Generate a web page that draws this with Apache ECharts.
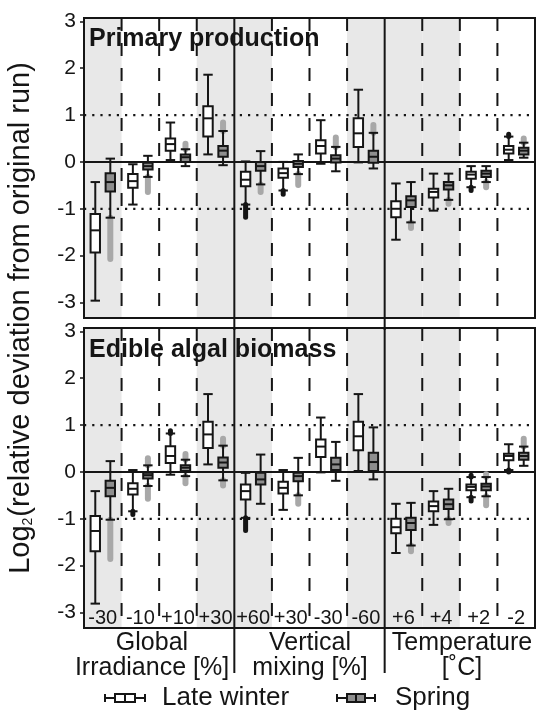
<!DOCTYPE html>
<html>
<head>
<meta charset="utf-8">
<script src="https://cdn.jsdelivr.net/npm/echarts@6/dist/echarts.min.js"></script>
<style>
  html, body { margin: 0; padding: 0; background: #fff; }
  #chart { width: 536px; height: 711px; }
</style>
</head>
<body>
<div id="chart"></div>
<script>
// Scenario groups along the x axis (unique keys) and their printed tick labels
const groupKeys = ['irr-30', 'irr-10', 'irr+10', 'irr+30',
                   'mix+60', 'mix+30', 'mix-30', 'mix-60',
                   'tmp+6', 'tmp+4', 'tmp+2', 'tmp-2'];
const tickLabels = ['-30', '-10', '+10', '+30', '+60', '+30', '-30', '-60', '+6', '+4', '+2', '-2'];
const sectionTitles = ['Global\nIrradiance [%]', 'Vertical\nmixing [%]', 'Temperature\n[˚C]'];
const panelTitles = ['Primary production', 'Edible algal biomass'];
const seasonNames = ['Late winter', 'Spring'];

// Box statistics per group: [lower whisker, Q1, median, Q3, upper whisker]
const ppLateWinter = [
  [-2.96, -1.93, -1.46, -1.11, -0.43],
  [-0.91, -0.55, -0.41, -0.26, -0.05],
  [0.04, 0.24, 0.38, 0.50, 0.84],
  [0.16, 0.54, 0.93, 1.19, 1.86],
  [-0.91, -0.52, -0.38, -0.21, 0.01],
  [-0.61, -0.34, -0.24, -0.14, 0.00],
  [-0.04, 0.18, 0.34, 0.46, 0.89],
  [-0.01, 0.32, 0.61, 0.93, 1.54],
  [-1.66, -1.18, -1.00, -0.84, -0.46],
  [-1.04, -0.76, -0.64, -0.57, -0.25],
  [-0.54, -0.36, -0.27, -0.21, -0.09],
  [0.04, 0.18, 0.26, 0.34, 0.54]
];
const ppSpring = [
  [-1.19, -0.63, -0.43, -0.24, 0.07],
  [-0.32, -0.16, -0.09, -0.02, 0.13],
  [-0.09, 0.00, 0.10, 0.16, 0.27],
  [-0.07, 0.11, 0.24, 0.34, 0.66],
  [-0.48, -0.19, -0.09, 0.00, 0.23],
  [-0.26, -0.11, -0.04, 0.02, 0.16],
  [-0.20, -0.01, 0.07, 0.14, 0.32],
  [-0.14, -0.02, 0.11, 0.24, 0.62],
  [-1.29, -0.96, -0.82, -0.73, -0.43],
  [-0.81, -0.59, -0.50, -0.43, -0.25],
  [-0.43, -0.32, -0.25, -0.19, -0.09],
  [0.09, 0.16, 0.24, 0.30, 0.41]
];
const eabLateWinter = [
  [-2.81, -1.69, -1.26, -0.94, -0.41],
  [-0.84, -0.48, -0.36, -0.24, 0.04],
  [-0.06, 0.19, 0.34, 0.55, 0.82],
  [0.16, 0.51, 0.80, 1.07, 1.66],
  [-0.98, -0.59, -0.41, -0.27, -0.02],
  [-0.81, -0.46, -0.34, -0.21, 0.04],
  [-0.01, 0.32, 0.54, 0.69, 1.16],
  [0.02, 0.46, 0.76, 1.07, 1.66],
  [-1.73, -1.31, -1.18, -1.00, -0.68],
  [-1.13, -0.84, -0.73, -0.63, -0.41],
  [-0.54, -0.39, -0.32, -0.27, -0.11],
  [0.04, 0.25, 0.34, 0.39, 0.59]
];
const eabSpring = [
  [-1.02, -0.52, -0.34, -0.19, 0.23],
  [-0.30, -0.14, -0.07, -0.02, 0.14],
  [-0.09, 0.02, 0.09, 0.14, 0.26],
  [-0.18, 0.09, 0.20, 0.31, 0.56],
  [-0.68, -0.27, -0.16, -0.02, 0.37],
  [-0.50, -0.20, -0.09, -0.02, 0.30],
  [-0.19, 0.04, 0.16, 0.30, 0.64],
  [-0.16, 0.02, 0.21, 0.41, 0.95],
  [-1.57, -1.24, -1.09, -0.98, -0.66],
  [-1.01, -0.79, -0.69, -0.59, -0.36],
  [-0.52, -0.39, -0.31, -0.25, -0.11],
  [0.13, 0.26, 0.34, 0.41, 0.54]
];

// Outlier runs: [group index, lowest value, highest value]
const ppLateWinterOut = [[4, -1.18, -0.91], [5, -0.69, -0.61], [10, -0.61, -0.54], [11, 0.54, 0.59]];
const ppSpringOut = [
  [0, -2.07, -1.19], [1, -0.64, -0.32], [2, 0.27, 0.39], [3, 0.66, 0.84],
  [4, -0.64, -0.48], [5, -0.49, -0.26], [6, 0.32, 0.52], [7, 0.62, 0.79],
  [8, -1.41, -1.29], [9, -0.89, -0.81], [10, -0.54, -0.43], [11, 0.41, 0.50]
];
const eabLateWinterOut = [[1, -0.91, -0.84], [2, 0.82, 0.88], [4, -1.25, -0.98], [10, -0.62, -0.54], [10, -0.11, -0.07], [11, 0.00, 0.04]];
const eabSpringOut = [
  [0, -1.86, -1.02], [1, 0.14, 0.29], [1, -0.57, -0.30], [2, 0.26, 0.38], [2, -0.24, -0.09],
  [3, 0.56, 0.71], [3, -0.29, -0.18], [5, -0.68, -0.50], [8, -1.69, -1.57], [9, -1.09, -1.01],
  [10, -0.71, -0.52], [10, -0.11, -0.05], [11, 0.54, 0.71]
];

// ---- styling / layout ----
const FONT = "'Liberation Sans', Arial, Helvetica, sans-serif";
const INK = '#151515';
const SHADE = '#e8e8e8';
const SPRING_FILL = '#8e8e8e';
const SPRING_OUT = '#a8a8a8';
const Y_MIN = -3.33, Y_MAX = 3.07;
const SHADED_GROUPS = [0, 3, 4, 7, 8, 9];
const BOX_SHIFT = 0.2;   // box centre offset, as fraction of the band
const BOX_W = 0.25;      // box width, as fraction of the band
const GRIDS = [
  { left: 84, top: 18, width: 451, height: 300 },
  { left: 84, top: 328, width: 451, height: 300 }
];

const chart = echarts.init(document.getElementById('chart'), null, { renderer: 'canvas' });

function shadeSeries(g) {
  return {
    type: 'custom', xAxisIndex: g, yAxisIndex: g, z: 1, silent: true,
    data: groupKeys.map((_, i) => [i, 0]),
    encode: { x: 0, y: 1 },
    renderItem(params, api) {
      const cs = params.coordSys;
      const i = api.value(0);
      if (SHADED_GROUPS.indexOf(i) < 0) return { type: 'group', children: [] };
      const band = api.size([1, 0])[0];
      const cx = api.coord([i, 0])[0];
      return {
        type: 'rect',
        shape: { x: cx - band / 2, y: cs.y, width: band, height: cs.height },
        style: { fill: SHADE }
      };
    }
  };
}

function frameSeries(g, extendBelow) {
  return {
    type: 'custom', xAxisIndex: g, yAxisIndex: g, z: 3, silent: true,
    data: groupKeys.map((_, i) => [i, 0]),
    encode: { x: 0, y: 1 },
    renderItem(params, api) {
      const cs = params.coordSys;
      const i = api.value(0);
      const band = api.size([1, 0])[0];
      const left = api.coord([i, 0])[0] - band / 2;
      const children = [];
      if (i % 4 !== 0) {
        children.push({
          type: 'line',
          shape: { x1: left, y1: cs.y, x2: left, y2: cs.y + cs.height },
          style: { stroke: INK, lineWidth: 2, lineDash: [13, 12] }
        });
      } else if (i > 0) {
        children.push({
          type: 'line',
          shape: { x1: left, y1: cs.y, x2: left, y2: cs.y + cs.height + extendBelow },
          style: { stroke: INK, lineWidth: 2 }
        });
      } else {
        [1, -1].forEach(v => {
          const y = api.coord([0, v])[1];
          children.push({
            type: 'line',
            shape: { x1: cs.x, y1: y, x2: cs.x + cs.width, y2: y },
            style: { stroke: INK, lineWidth: 2.2, lineDash: [2.2, 6], lineCap: 'butt' }
          });
        });
        const y0 = api.coord([0, 0])[1];
        children.push({
          type: 'line',
          shape: { x1: cs.x, y1: y0, x2: cs.x + cs.width, y2: y0 },
          style: { stroke: INK, lineWidth: 2 }
        });
        children.push({
          type: 'rect',
          shape: { x: cs.x, y: cs.y, width: cs.width, height: cs.height },
          style: { fill: 'none', stroke: INK, lineWidth: 2 }
        });
      }
      return { type: 'group', children };
    }
  };
}

function boxSeries(g, name, stats, side, fill) {
  return {
    type: 'custom', name, xAxisIndex: g, yAxisIndex: g, z: 5,
    data: stats.map((s, i) => [i].concat(s)),
    encode: { x: 0, y: [1, 2, 3, 4, 5] },
    renderItem(params, api) {
      const i = api.value(0);
      const band = api.size([1, 0])[0];
      const x = api.coord([i, 0])[0] + side * BOX_SHIFT * band;
      const w = BOX_W * band;
      const yLo = api.coord([i, api.value(1)])[1];
      const yQ1 = api.coord([i, api.value(2)])[1];
      const yMed = api.coord([i, api.value(3)])[1];
      const yQ3 = api.coord([i, api.value(4)])[1];
      const yHi = api.coord([i, api.value(5)])[1];
      const ln = { stroke: INK, lineWidth: 2 };
      return {
        type: 'group',
        children: [
          { type: 'line', shape: { x1: x, y1: yHi, x2: x, y2: yQ3 }, style: ln },
          { type: 'line', shape: { x1: x, y1: yQ1, x2: x, y2: yLo }, style: ln },
          { type: 'line', shape: { x1: x - w / 2, y1: yHi, x2: x + w / 2, y2: yHi }, style: ln },
          { type: 'line', shape: { x1: x - w / 2, y1: yLo, x2: x + w / 2, y2: yLo }, style: ln },
          { type: 'rect', shape: { x: x - w / 2, y: yQ3, width: w, height: yQ1 - yQ3 },
            style: { fill, stroke: INK, lineWidth: 2 } },
          { type: 'line', shape: { x1: x - w / 2, y1: yMed, x2: x + w / 2, y2: yMed }, style: ln }
        ]
      };
    }
  };
}

function outlierSeries(g, runs, side, color, width) {
  return {
    type: 'custom', xAxisIndex: g, yAxisIndex: g, z: 4, silent: true,
    data: runs,
    encode: { x: 0, y: [1, 2] },
    renderItem(params, api) {
      const i = api.value(0);
      const band = api.size([1, 0])[0];
      const x = api.coord([i, 0])[0] + side * BOX_SHIFT * band;
      const y1 = api.coord([i, api.value(1)])[1];
      const y2 = api.coord([i, api.value(2)])[1];
      return {
        type: 'line',
        shape: { x1: x, y1: y1, x2: x, y2: y2 },
        style: { stroke: color, lineWidth: width, lineCap: 'round' }
      };
    }
  };
}

const xAxes = GRIDS.map((_, g) => ({
  type: 'category', gridIndex: g, data: groupKeys, boundaryGap: true, z: 8,
  axisLine: { show: false }, axisTick: { show: false }, splitLine: { show: false },
  axisLabel: {
    show: g === 1, inside: true, margin: 0, interval: 0,
    formatter: (v, idx) => tickLabels[idx],
    fontFamily: FONT, fontSize: 20, color: INK
  }
}));

const yAxes = GRIDS.map((_, g) => ({
  type: 'value', gridIndex: g, min: Y_MIN, max: Y_MAX, splitNumber: 6, z: 8,
  axisLine: { show: false },
  axisTick: { show: true, length: 4, lineStyle: { color: INK, width: 1.5 } },
  splitLine: { show: false },
  axisLabel: {
    showMinLabel: false, showMaxLabel: false, margin: 8,
    formatter: v => (Math.abs(v - Math.round(v)) < 1e-6 ? String(Math.round(v)) : ''),
    fontFamily: FONT, fontSize: 21, color: INK
  }
}));

const statsByPanel = [
  [ppLateWinter, ppSpring, ppLateWinterOut, ppSpringOut],
  [eabLateWinter, eabSpring, eabLateWinterOut, eabSpringOut]
];

const series = [];
statsByPanel.forEach((p, g) => {
  series.push(shadeSeries(g));
  series.push(frameSeries(g, g === 0 ? 12 : 45));
  series.push(outlierSeries(g, p[2], -1, INK, 5));
  series.push(outlierSeries(g, p[3], 1, SPRING_OUT, 6));
  series.push(boxSeries(g, seasonNames[0], p[0], -1, '#ffffff'));
  series.push(boxSeries(g, seasonNames[1], p[1], 1, SPRING_FILL));
});

// Legend glyphs: small horizontal box-and-whisker icons
function legendIcon(x0, x1, b0, b1, y, fill) {
  const st = { stroke: INK, lineWidth: 2 };
  return [
    { type: 'line', shape: { x1: x0, y1: y, x2: x1, y2: y }, style: st, z: 10 },
    { type: 'line', shape: { x1: x0, y1: y - 4, x2: x0, y2: y + 4 }, style: st, z: 10 },
    { type: 'line', shape: { x1: x1, y1: y - 4, x2: x1, y2: y + 4 }, style: st, z: 10 },
    { type: 'rect', shape: { x: b0, y: y - 4, width: b1 - b0, height: 8 },
      style: { fill, stroke: INK, lineWidth: 2 }, z: 11 },
    { type: 'line', shape: { x1: (b0 + b1) / 2, y1: y - 4, x2: (b0 + b1) / 2, y2: y + 4 }, style: st, z: 12 }
  ];
}

const graphic = [
  {
    type: 'text', x: 21, y: 318, rotation: Math.PI / 2, z: 10,
    style: {
      text: '{a|Log}{s|2}{a|(relative deviation from original run)}',
      align: 'center', verticalAlign: 'middle',
      rich: {
        a: { fontFamily: FONT, fontSize: 29, fill: INK },
        s: { fontFamily: FONT, fontSize: 14, fill: INK, verticalAlign: 'bottom', padding: [0, 1, 0, 0] }
      }
    }
  },
  { type: 'text', x: 89, y: 39, z: 2,
    style: { text: panelTitles[0], fontFamily: FONT, fontWeight: 'bold', fontSize: 25, fill: INK, verticalAlign: 'middle' } },
  { type: 'text', x: 89, y: 350, z: 2,
    style: { text: panelTitles[1], fontFamily: FONT, fontWeight: 'bold', fontSize: 25, fill: INK, verticalAlign: 'middle' } },
  { type: 'text', x: 152, y: 656, z: 10,
    style: { text: sectionTitles[0], fontFamily: FONT, fontSize: 25, lineHeight: 25, fill: INK, align: 'center', verticalAlign: 'middle' } },
  { type: 'text', x: 310, y: 656, z: 10,
    style: { text: sectionTitles[1], fontFamily: FONT, fontSize: 25, lineHeight: 25, fill: INK, align: 'center', verticalAlign: 'middle' } },
  { type: 'text', x: 462, y: 656, z: 10,
    style: { text: sectionTitles[2], fontFamily: FONT, fontSize: 25, lineHeight: 25, fill: INK, align: 'center', verticalAlign: 'middle' } },
  { type: 'text', x: 162, y: 698, z: 10,
    style: { text: seasonNames[0], fontFamily: FONT, fontSize: 26, fill: INK, verticalAlign: 'middle' } },
  { type: 'text', x: 395, y: 698, z: 10,
    style: { text: seasonNames[1], fontFamily: FONT, fontSize: 26, fill: INK, verticalAlign: 'middle' } }
].concat(legendIcon(105, 145, 115, 135, 698, '#ffffff'))
 .concat(legendIcon(337, 375, 347, 365, 698, SPRING_FILL));

chart.setOption({
  animation: false,
  backgroundColor: '#ffffff',
  grid: GRIDS.map(g => Object.assign({ show: false, containLabel: false }, g)),
  xAxis: xAxes,
  yAxis: yAxes,
  series,
  graphic
});
</script>
</body>
</html>
